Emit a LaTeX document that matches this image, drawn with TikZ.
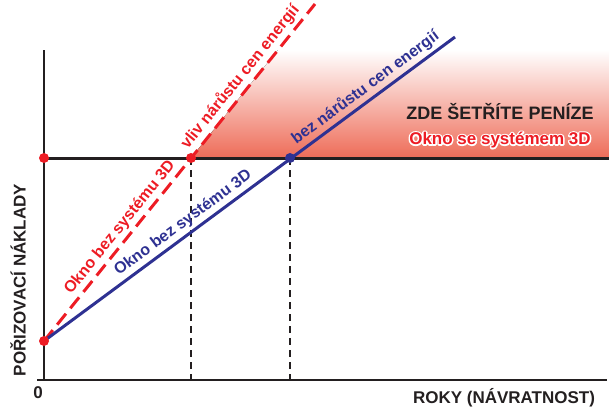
\documentclass[tikz,border=0pt]{standalone}
\usepackage{fontspec}
\setmainfont{Liberation Sans}
\usetikzlibrary{positioning,calc}
\definecolor{cervena}{RGB}{237,28,36}
\definecolor{modra}{RGB}{46,49,146}
\definecolor{osa}{RGB}{35,31,32}
\definecolor{uspora}{RGB}{238,108,88}
\newcommand{\obrys}[1]{\special{pdf:literal direct 2 Tr 3 w 1 j 1 1 1 RG 1 1 1 rg}#1\special{pdf:literal direct 0 Tr}}

\begin{document}
\begin{tikzpicture}[x=1pt, y=-1pt, font=\bfseries]
    \tikzstyle{bod}=[circle, inner sep=0pt, minimum size=10pt]
    \tikzstyle{popis}=[sloped, above, inner sep=3pt, font=\bfseries\fontsize{16}{16}\selectfont]
    \tikzstyle{napis}=[font=\bfseries\fontsize{17}{17}\selectfont]
    \useasboundingbox (0,0) rectangle (609,410);

    % Body
    \coordinate (O) at (44,380);
    \coordinate (ytop) at (44,50);
    \coordinate (xstart) at (37,380);
    \coordinate (xend) at (607,380);
    \coordinate (start) at (44,341);
    \coordinate (h0) at (44,158);
    \coordinate (hend) at (609,158);
    \coordinate (r1) at (191,158);
    \coordinate (m1) at (290,158);
    \coordinate (rend) at (315,4);
    \coordinate (mend) at (455,37);
    \coordinate (r1x) at (191,380);
    \coordinate (m1x) at (290,380);

    % Uspora
    \fill[top color=white, bottom color=uspora]
        (r1) -- ($(r1)!0.701!(rend)$) -- (609,50) -- (hend) -- cycle;

    % Osy
    \draw[osa, line width=3pt] (h0) -- (hend);
    \draw[osa, line width=2pt] (ytop) -- (O);
    \draw[osa, line width=2pt] (xstart) -- (xend);
    \draw[osa, line width=1.5pt, dash pattern=on 7pt off 5pt] (r1) -- (r1x);
    \draw[osa, line width=1.5pt, dash pattern=on 7pt off 5pt] (m1) -- (m1x);

    % Primky
    \draw[cervena, line width=3pt, dash pattern=on 14pt off 7pt] (start) -- (rend)
        node[popis, pos=0.315] {Okno bez systému 3D}
        node[popis, pos=0.76] {vliv nárůstu cen energií};
    \draw[modra, line width=3pt] (start) -- (mend)
        node[popis, pos=0.356] {Okno bez systému 3D}
        node[popis, pos=0.80] {bez nárůstu cen energií};

    % Body na primkach
    \node[bod, fill=cervena] (d0) at (start) {};
    \node[bod, fill=cervena] (dh) at (h0) {};
    \node[bod, fill=cervena] (d1) at (r1) {};
    \node[bod, fill=modra] (d2) at (m1) {};

    % Texty
    \node[osa, font=\bfseries\fontsize{18}{18}\selectfont] (zde) at (500,112) {ZDE ŠETŘÍTE PENÍZE};
    \node[napis, white] (oknoobrys) at (500,140) {\obrys{Okno se systémem 3D}};
    \node[napis, cervena] (okno) at (500,140) {Okno se systémem 3D};
    \node[napis, osa] (roky) at (504,398) {ROKY (NÁVRATNOST)};
    \node[napis, osa, rotate=90] (naklady) at (18,280) {POŘIZOVACÍ NÁKLADY};
    \node[napis, osa] (nula) at (38,393) {0};
\end{tikzpicture}
\end{document}
